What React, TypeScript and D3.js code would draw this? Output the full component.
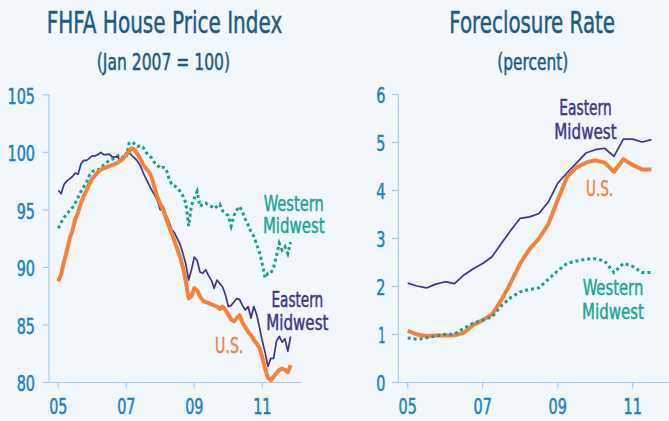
import React from "react";
import * as d3 from "d3";

// ---------- DATA ----------
// FHFA House Price Index (Jan 2007 = 100), monthly from Jan 2005
const hpiStartYear = 2005;
const hpiEastern = [
  96.7, 96.4, 97.2, 97.5, 97.7, 97.9, 98.2, 98.1, 99.0, 99.3,
  99.3, 99.5, 99.7, 99.7, 99.8, 100.0, 99.8, 99.8, 99.85, 99.6,
  99.6, 99.6, 99.2, 99.6, 100.0, 100.0, 99.7, 99.5, 99.2, 98.8,
  98.2, 97.7, 97.2, 96.7, 96.3, 95.8, 95.0, 95.3, 94.6, 94.0,
  93.3, 93.0, 92.5, 92.0, 91.2, 90.3, 88.9, 89.8, 90.9, 90.6,
  89.6, 89.5, 89.8, 89.3, 88.9, 88.2, 88.9, 88.6, 88.3, 87.6,
  86.6, 86.7, 87.0, 87.3, 87.2, 86.7, 86.3, 86.6, 85.6, 86.6,
  85.9, 84.8, 83.6, 82.6, 81.4, 82.1, 82.1, 83.6, 84.0, 83.5,
  83.8, 82.7, 84.0,
];
const hpiUS = [
  88.8, 89.4, 90.5, 91.4, 92.5, 93.2, 94.2, 94.8, 95.6, 96.2,
  96.7, 97.3, 97.7, 98.0, 98.3, 98.5, 98.6, 98.7, 98.8, 98.9,
  99.0, 99.1, 99.3, 99.5, 99.8, 100.1, 100.35, 100.2, 99.85, 99.4,
  98.9, 98.6, 98.3, 97.8, 96.9, 96.1, 95.5, 95.0, 94.3, 93.6,
  93.0, 92.3, 91.6, 90.9, 90.0, 88.8, 87.3, 87.5, 88.2, 88.0,
  87.5, 87.1, 87.0, 86.9, 86.8, 86.7, 86.6, 86.4, 86.6, 86.3,
  85.9, 85.5, 85.3, 85.6, 85.85, 85.2, 84.8, 84.4, 84.1, 83.7,
  83.4, 83.0, 82.2, 81.2, 80.4, 80.2, 80.5, 80.8, 81.1, 81.2,
  81.1, 80.9, 81.5,
];
const hpiWestern = [
  93.4, 93.9, 94.3, 94.7, 94.9, 95.2, 95.6, 96.1, 96.6, 97.0,
  97.4, 98.0, 98.3, 98.5, 98.5, 98.6, 98.9, 99.1, 99.3, 99.4,
  99.5, 99.7, 99.8, 99.5, 99.6, 100.8, 100.9, 100.7, 100.5, 100.6,
  100.4, 100.0, 99.7, 99.5, 99.1, 98.9, 98.6, 98.7, 98.6, 97.8,
  97.2, 97.1, 96.9, 96.6, 96.2, 95.6, 93.6, 95.4, 96.0, 96.6,
  95.3, 95.5, 95.6, 95.4, 95.3, 95.1, 95.3, 95.5, 94.9, 94.7,
  94.5, 93.6, 94.5, 95.0, 95.3, 94.8, 94.2, 93.7, 93.1, 92.7,
  92.0, 91.3, 90.3, 89.1, 89.5, 89.5, 90.0, 91.0, 92.1, 91.5,
  91.8, 91.2, 92.2,
];

// Foreclosure rate (percent), quarterly from 2005 Q1
const fcStartYear = 2005;
const fcEastern = [
  2.07, 2.01, 1.97, 2.05, 2.1, 2.06, 2.24, 2.37, 2.48, 2.62,
  2.9, 3.17, 3.42, 3.45, 3.52, 3.76, 4.15, 4.37, 4.57, 4.78,
  4.85, 4.88, 4.71, 5.07, 5.07, 5.01, 5.06,
];
const fcUS = [
  1.08, 1.0, 0.97, 0.98, 0.98, 0.98, 1.04, 1.2, 1.3, 1.42,
  1.72, 2.08, 2.48, 2.78, 3.0, 3.3, 3.8, 4.28, 4.48, 4.58,
  4.63, 4.58, 4.39, 4.65, 4.53, 4.44, 4.44,
];
const fcWestern = [
  0.93, 0.9, 0.93, 0.97, 1.0, 1.01, 1.13, 1.24, 1.3, 1.37,
  1.6, 1.77, 1.89, 1.94, 1.97, 2.15, 2.33, 2.48, 2.53, 2.57,
  2.58, 2.53, 2.29, 2.48, 2.42, 2.29, 2.29,
];

const xTickYears = [2005, 2007, 2009, 2011];
const xTickLabels = ["05", "07", "09", "11"];
const hpiTicks = [80, 85, 90, 95, 100, 105];
const fcTicks = [0, 1, 2, 3, 4, 5, 6];

// ---------- STYLE ----------
const W = 669;
const H = 421;
const BG = "#f2f7fc";
const AXIS = "#a9cbea";
const TICKTXT = "#1a80c4";
const TITLE = "#1c5a85";
const ORANGE = "#f7813c";
const PURPLE = "#3d3587";
const TEAL = "#169f8e";
const TEAL_TXT = "#1ba596";
const FONT = "'Liberation Sans Narrow','DejaVu Sans Condensed','Liberation Sans',sans-serif";
const DIGIT_W = 9.15;

function T(props: {
  x: number; y: number; w: number; size: number; fill: string;
  anchor?: "start" | "middle" | "end"; children: React.ReactNode;
}) {
  return (
    <text
      x={props.x}
      y={props.y}
      fontSize={props.size}
      fill={props.fill}
      stroke={props.fill}
      strokeWidth={0.45}
      textAnchor={props.anchor || "start"}
      textLength={props.w}
      lengthAdjust="spacingAndGlyphs"
      fontFamily={FONT}
    >
      {props.children}
    </text>
  );
}

function Axes(props: {
  x: d3.ScaleLinear<number, number>;
  y: d3.ScaleLinear<number, number>;
  ticks: number[];
  xEnd: number;
  labelRight: number;
}) {
  const { x, y, ticks, xEnd, labelRight } = props;
  const x0 = x.range()[0] - 9.3;
  const yBottom = y.range()[0];
  const yTop = y.range()[1];
  return (
    <g>
      <line x1={x0} x2={x0} y1={yTop} y2={yBottom} stroke={AXIS} strokeWidth={1.2} />
      <line x1={x0} x2={xEnd} y1={yBottom} y2={yBottom} stroke={AXIS} strokeWidth={1.2} />
      {ticks.map((t) => (
        <g key={"y" + t}>
          <line x1={x0 - 6.5} x2={x0} y1={y(t)} y2={y(t)} stroke={AXIS} strokeWidth={1.2} />
          <T x={labelRight} y={y(t) + 8.8} w={String(t).length * DIGIT_W - (String(t) === "1" ? 2 : 0)} size={20.5} fill={TICKTXT} anchor="end">
            {String(t)}
          </T>
        </g>
      ))}
      {xTickYears.map((yr, i) => (
        <g key={"x" + yr}>
          <line x1={x(yr)} x2={x(yr)} y1={yBottom} y2={yBottom + 6} stroke={AXIS} strokeWidth={1.2} />
          <T x={x(yr)} y={414} w={xTickLabels[i].length * DIGIT_W} size={20.5} fill={TICKTXT} anchor="middle">
            {xTickLabels[i]}
          </T>
        </g>
      ))}
    </g>
  );
}

export default function App() {
  // Left panel scales
  const xL = d3.scaleLinear().domain([2005, 2011]).range([58.3, 262.3]);
  const yL = d3.scaleLinear().domain([80, 105]).range([382.5, 94.8]);
  // Right panel scales
  const xR = d3.scaleLinear().domain([2005, 2011]).range([407.7, 632.7]);
  const yR = d3.scaleLinear().domain([0, 6]).range([382.5, 94.5]);

  const monthly = (vals: number[]) => vals.map((v, i) => ({ t: hpiStartYear + i / 12, v }));
  const quarterly = (vals: number[]) => vals.map((v, i) => ({ t: fcStartYear + i / 4, v }));

  const lineL = d3.line<{ t: number; v: number }>().x((d) => xL(d.t)).y((d) => yL(d.v));
  const lineR = d3.line<{ t: number; v: number }>().x((d) => xR(d.t)).y((d) => yR(d.v));

  return (
    <svg
      width={W}
      height={H}
      style={{ position: "fixed", left: 0, top: 0, background: BG, display: "block" }}
    >
      <rect x={0} y={0} width={W} height={H} fill={BG} />

      {/* Titles */}
      <T x={164.5} y={33.3} w={235.6} size={30} fill={TITLE} anchor="middle">FHFA House Price Index</T>
      <T x={163.4} y={70} w={133.3} size={23} fill={TITLE} anchor="middle">(Jan 2007 = 100)</T>
      <T x={532.2} y={33.3} w={165.7} size={30} fill={TITLE} anchor="middle">Foreclosure Rate</T>
      <T x={532.8} y={70} w={71} size={23} fill={TITLE} anchor="middle">(percent)</T>

      {/* Left panel */}
      <Axes x={xL} y={yL} ticks={hpiTicks} xEnd={301.7} labelRight={35} />
      <path d={lineL(monthly(hpiWestern)) || ""} fill="none" stroke={TEAL} strokeWidth={3} strokeDasharray="3,3" />
      <path d={lineL(monthly(hpiEastern)) || ""} fill="none" stroke={PURPLE} strokeWidth={1.7} strokeLinejoin="round" />
      <path d={lineL(monthly(hpiUS)) || ""} fill="none" stroke={ORANGE} strokeWidth={4} strokeLinejoin="round" />

      <T x={293.8} y={210.7} w={60} size={21} fill={TEAL_TXT} anchor="middle">Western</T>
      <T x={293.8} y={233.3} w={61.7} size={21} fill={TEAL_TXT} anchor="middle">Midwest</T>
      <T x={297.3} y={306.7} w={51.7} size={21} fill={PURPLE} anchor="middle">Eastern</T>
      <T x={297.3} y={330} w={62.3} size={21} fill={PURPLE} anchor="middle">Midwest</T>
      <T x={229.2} y={353.3} w={28.3} size={21} fill={ORANGE} anchor="middle">U.S.</T>

      {/* Right panel */}
      <Axes x={xR} y={yR} ticks={fcTicks} xEnd={669} labelRight={385.5} />
      <path d={lineR(quarterly(fcEastern)) || ""} fill="none" stroke={PURPLE} strokeWidth={1.7} strokeLinejoin="round" />
      <path d={lineR(quarterly(fcUS)) || ""} fill="none" stroke={ORANGE} strokeWidth={4} strokeLinejoin="round" />
      <path d={lineR(quarterly(fcWestern)) || ""} fill="none" stroke={TEAL} strokeWidth={3} strokeDasharray="3,3" />

      <T x={585.5} y={115} w={52.4} size={21} fill={PURPLE} anchor="middle">Eastern</T>
      <T x={585.5} y={139.3} w={62.4} size={21} fill={PURPLE} anchor="middle">Midwest</T>
      <T x={599.7} y={196} w={27.3} size={21} fill={ORANGE} anchor="middle">U.S.</T>
      <T x={613} y={295} w={60.6} size={21} fill={TEAL_TXT} anchor="middle">Western</T>
      <T x={613} y={319} w={62} size={21} fill={TEAL_TXT} anchor="middle">Midwest</T>
    </svg>
  );
}
